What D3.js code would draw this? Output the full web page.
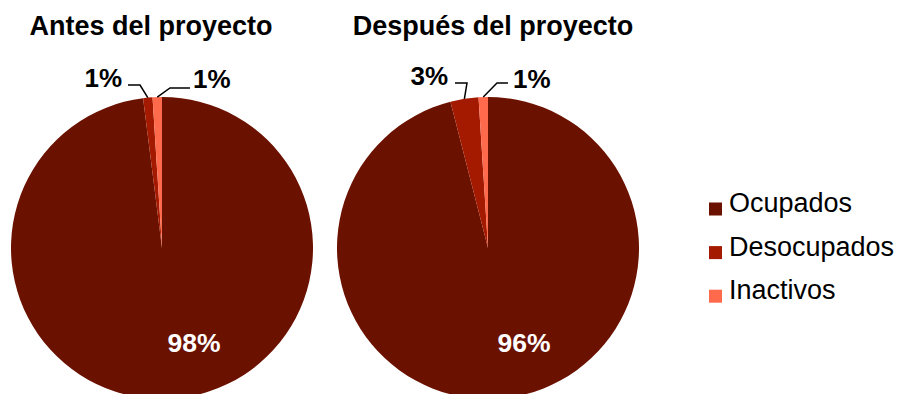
<!DOCTYPE html>
<html>
<head>
<meta charset="utf-8">
<script src="https://cdn.jsdelivr.net/npm/d3@7"></script>
<style>
  html, body { margin: 0; padding: 0; background: #fff; }
  svg { display: block; font-family: "Liberation Sans", Arial, sans-serif; }
</style>
</head>
<body>
<svg id="chart" width="898" height="394"></svg>
<script>
// Labour status shares before and after the project (percent)
const categories = ["Ocupados", "Desocupados", "Inactivos"];
const titles = ["Antes del proyecto", "Después del proyecto"];
const valuesAntes = [98, 1, 1];
const valuesDespues = [96, 3, 1];
const colors = ["#6B1100", "#A31A00", "#FF6A4D"];

const W = 898, H = 394;
const svg = d3.select("#chart");
const radius = 151;

// Pie frames: centre, title anchor and label callout geometry
const frames = [
  {
    values: valuesAntes, title: titles[0], cx: 162, cy: 248, titleX: 151,
    inner: { dx: 32, dy: 104 },
    callouts: [
      null,
      { elbow: [-22, -163], end: [-34, -163], text: [-40, -161], anchor: "end" },
      { elbow: [8, -160], end: [28, -160], text: [31, -160], anchor: "start" }
    ]
  },
  {
    values: valuesDespues, title: titles[1], cx: 488, cy: 248, titleX: 493,
    inner: { dx: 36, dy: 104 },
    callouts: [
      null,
      { elbow: [-21, -165], end: [-33, -165], text: [-40, -163], anchor: "end" },
      { elbow: [9, -165], end: [20, -165], text: [25, -160], anchor: "start" }
    ]
  }
];

const color = d3.scaleOrdinal().domain(categories).range(colors);
const pie = d3.pie().sort(null).value(d => d.value);
const arc = d3.arc().innerRadius(0).outerRadius(radius);

frames.forEach(f => {
  const data = categories.map((c, i) => ({ cat: c, value: f.values[i] }));
  const arcs = pie(data);
  const total = d3.sum(f.values);

  svg.append("text")
    .attr("x", f.titleX).attr("y", 35)
    .attr("text-anchor", "middle")
    .attr("font-size", 27).attr("font-weight", "bold")
    .attr("fill", "#000")
    .text(f.title);

  const g = svg.append("g").attr("transform", `translate(${f.cx},${f.cy})`);

  g.selectAll("path.slice")
    .data(arcs)
    .join("path")
    .attr("class", "slice")
    .attr("d", arc)
    .attr("fill", d => color(d.data.cat));

  arcs.forEach((a, i) => {
    const pct = Math.round(a.data.value / total * 100) + "%";
    const co = f.callouts[i];
    if (!co) {
      g.append("text")
        .attr("x", f.inner.dx).attr("y", f.inner.dy)
        .attr("text-anchor", "middle")
        .attr("font-size", 26.5).attr("font-weight", "bold")
        .attr("fill", "#fff")
        .text(pct);
      return;
    }
    const mid = (a.startAngle + a.endAngle) / 2;
    const p0 = [Math.sin(mid) * radius, -Math.cos(mid) * radius];
    g.append("polyline")
      .attr("points", [p0, co.elbow, co.end].map(p => p.join(",")).join(" "))
      .attr("fill", "none")
      .attr("stroke", "#000")
      .attr("stroke-width", 1.5);
    g.append("text")
      .attr("x", co.text[0]).attr("y", co.text[1])
      .attr("text-anchor", co.anchor)
      .attr("font-size", 26).attr("font-weight", "bold")
      .attr("fill", "#000")
      .text(pct);
  });
});

// Legend
const legend = svg.append("g").attr("transform", "translate(709,212)");
const rowStep = 43.6;
categories.forEach((c, i) => {
  const row = legend.append("g").attr("transform", `translate(0,${i * rowStep})`);
  row.append("rect")
    .attr("x", 0).attr("y", -9.5)
    .attr("width", 13).attr("height", 13)
    .attr("fill", color(c));
  row.append("text")
    .attr("x", 20).attr("y", 0)
    .attr("font-size", 27)
    .attr("fill", "#000")
    .text(c);
});
</script>
</body>
</html>
